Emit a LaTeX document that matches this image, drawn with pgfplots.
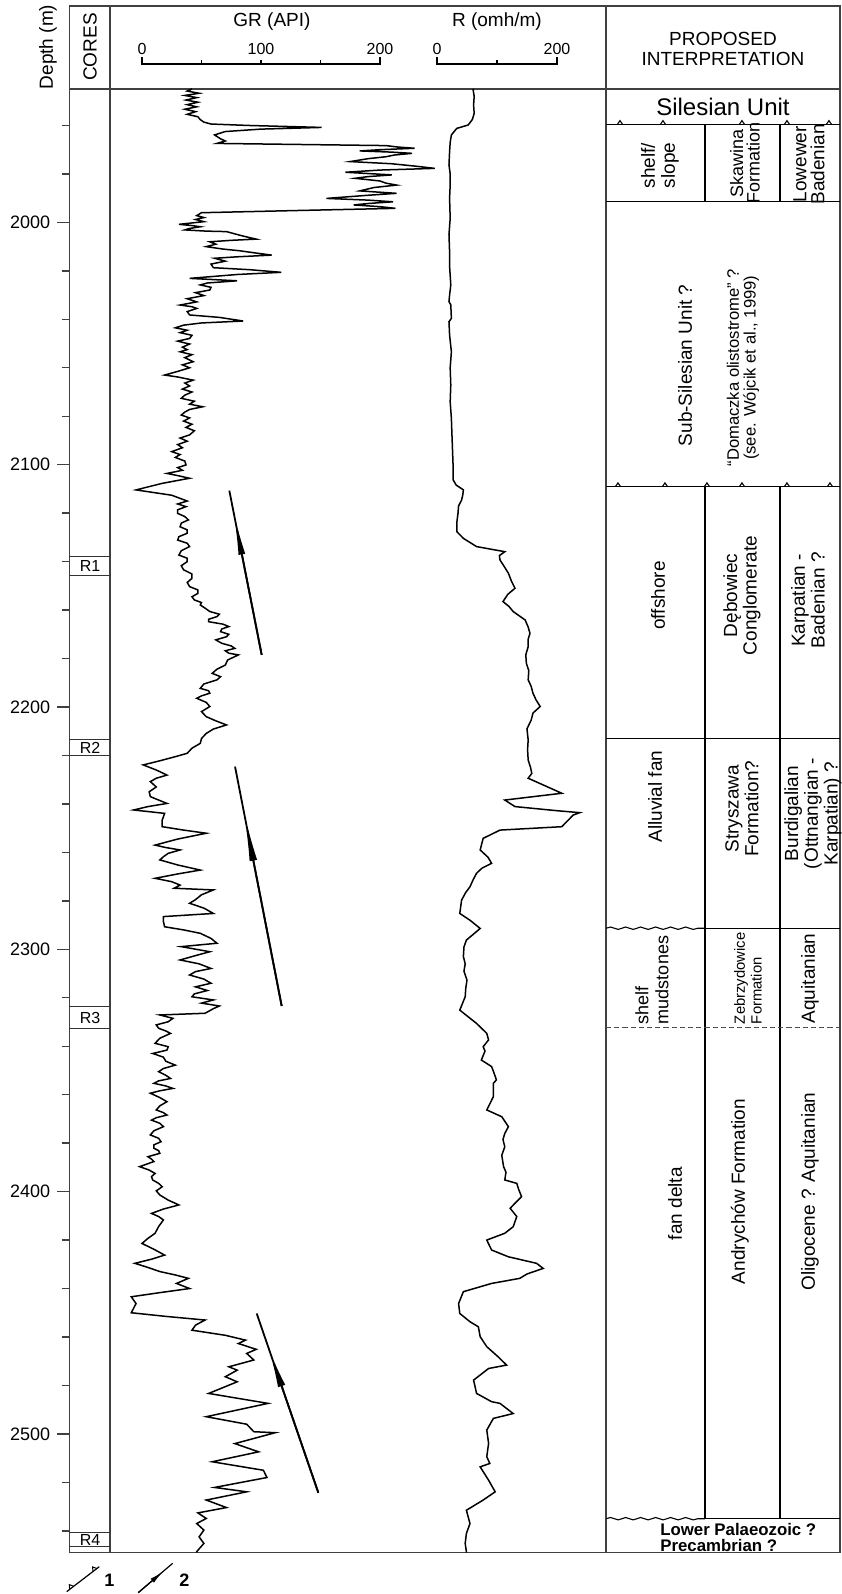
\documentclass[border=0pt]{standalone}
\usepackage{pgfplots}
\pgfplotsset{compat=1.18}
\usepackage{pgfplotstable}
\usepackage{fontspec}
\setmainfont{Liberation Sans}
\usetikzlibrary{arrows.meta,decorations.pathmorphing}
\newcommand\fs[2]{\fontsize{#1pt}{#2pt}\selectfont}

\pgfplotstableread{
d gr
1944.9 42
1945.8 38
1946.7 48
1947.6 36
1948.5 46
1949.5 37
1950.4 47
1951.4 38
1952.3 46
1953.3 36
1954.3 45
1955.4 38
1956.4 47
1957.6 49
1958.6 52
1959.4 58
1960.0 90
1960.8 151
1961.5 100
1962.5 70
1963.9 61
1965.5 66
1966.4 70
1967.4 63
1968.3 205
1968.9 215
1969.4 229
1970.0 200
1970.5 183
1971.0 210
1971.5 227
1972.2 212
1972.9 205
1973.7 190
1974.9 175
1975.8 210
1976.8 230
1977.7 246
1978.4 200
1979.3 171
1980.4 210
1981.1 190
1981.8 179
1982.9 200
1983.8 205
1984.6 214
1985.6 195
1987.0 183
1988.0 214
1988.8 190
1990.1 155
1990.8 190
1991.5 211
1992.2 190
1992.8 178
1993.5 200
1994.2 213
1995.1 130
1996.0 50
1997.2 46
1998.0 52
1998.8 45
1999.7 52
2000.8 31
2001.3 42
2001.8 49
2002.5 40
2003.1 36
2003.6 54
2003.8 71
2005.0 80
2006.0 88
2006.9 96
2007.4 75
2008.0 57
2009.0 62
2010.0 54
2011.0 68
2011.7 82
2012.6 95
2013.5 109
2014.2 80
2014.8 61
2016.0 70
2017.2 58
2018.7 60
2019.5 90
2020.6 117
2021.5 80
2023.1 40
2023.6 60
2024.1 80
2025.0 55
2025.8 49
2026.8 58
2027.9 57
2029.0 45
2030.2 52
2031.5 38
2032.8 46
2034.1 32
2034.8 42
2035.5 46
2036.8 38
2038.2 40
2039.2 65
2040.7 85
2041.5 50
2042.4 35
2043.5 28
2044.5 38
2045.5 32
2046.6 42
2047.9 40
2049.0 30
2050.2 40
2051.5 34
2052.5 38
2053.4 32
2054.6 42
2055.8 36
2057.5 43
2058.8 34
2060.0 40
2061.5 30
2063.0 19
2063.8 30
2065.1 43
2066.3 36
2067.5 40
2068.8 34
2070.0 42
2071.3 36
2072.6 33
2073.8 44
2075.0 40
2076.1 51
2077.2 40
2078.3 36
2079.5 33
2080.7 40
2082.0 35
2083.3 42
2084.6 37
2086.0 44
2087.7 40
2089.0 32
2090.3 38
2091.7 30
2093.0 34
2094.6 25
2095.8 32
2097.0 28
2098.5 36
2100.1 37
2101.2 30
2102.3 34
2103.6 21
2104.5 30
2105.6 40
2106.5 30
2107.7 17
2108.8 8
2110.4 -5
2111.5 10
2112.6 25
2113.9 32
2115.0 38
2116.2 30
2117.3 37
2118.6 30
2120.1 30
2121.4 36
2122.8 39
2124.1 33
2125.6 32
2126.9 38
2128.3 38
2129.7 31
2131.1 30
2132.4 38
2133.8 40
2135.5 33
2137.3 31
2138.6 38
2140.0 38
2141.7 33
2143.4 35
2145.1 42
2146.9 42
2148.6 38
2150.3 40
2151.7 47
2153.1 47
2154.5 42
2155.8 44
2156.9 50
2157.9 49
2159.2 53
2160.6 57
2161.7 65
2162.7 63
2163.8 56
2164.8 56
2165.8 68
2166.8 73
2167.8 67
2168.9 66
2170.0 73
2171.0 71
2172.3 62
2173.7 67
2174.8 75
2175.8 78
2176.8 70
2177.8 73
2178.5 81
2180.6 72
2182.7 70
2184.4 63
2186.1 59
2187.5 66
2188.8 63
2190.5 52
2192.3 49
2193.3 56
2194.3 57
2195.4 50
2196.4 46
2198.1 54
2199.8 57
2201.9 50
2204.0 54
2205.7 62
2207.4 71
2209.1 60
2210.9 54
2213.0 50
2215.0 49
2217.0 42
2219.1 38
2220.5 28
2222.2 15
2223.9 1
2226.0 12
2228.1 21
2229.4 12
2230.8 7
2233.0 12
2235.0 6
2237.0 7
2238.4 14
2239.8 21
2241.1 5
2242.5 -7
2243.9 19
2246.7 17
2249.4 17
2250.8 35
2252.1 54
2254.5 30
2257.0 11
2258.0 20
2259.0 32
2260.4 22
2261.8 18
2263.1 15
2265.2 30
2267.3 49
2268.9 30
2270.7 11
2272.1 25
2273.5 32
2274.8 27
2275.5 60
2277.5 50
2279.5 45
2281.0 40
2283.0 52
2285.2 60
2286.5 18
2288.5 18
2290.7 19
2292.0 35
2293.4 49
2295.5 58
2297.5 63
2298.9 33
2301.0 57
2302.6 45
2304.4 32
2306.0 48
2307.9 58
2309.2 45
2310.6 40
2312.3 52
2314.0 58
2315.5 45
2317.0 55
2318.4 44
2319.6 42
2320.9 60
2322.2 50
2323.4 65
2324.5 60
2326.4 53
2327.1 15
2328.5 26
2329.9 22
2331.2 12
2332.6 14
2333.7 20
2334.7 24
2336.7 15
2338.8 11
2340.2 22
2341.6 21
2343.0 9
2344.5 18
2346.2 20
2347.8 28
2349.2 18
2350.5 14
2352.0 20
2353.3 24
2354.3 14
2355.3 10
2356.4 20
2357.4 26
2358.4 15
2359.4 7
2361.2 15
2362.9 21
2364.6 15
2366.3 12
2367.4 18
2368.4 21
2369.5 12
2370.5 8
2371.8 15
2373.2 18
2374.9 10
2376.6 7
2378.0 14
2379.4 16
2380.7 10
2382.1 10
2383.1 14
2384.2 15
2385.6 5
2386.6 8
2387.6 10
2389.7 -2
2391.1 6
2392.5 11
2393.8 8
2395.2 9
2396.6 14
2398.0 17
2399.7 12
2401.4 15
2403.5 22
2405.5 31
2407.2 18
2409.0 8
2410.3 14
2411.7 18
2414.4 14
2417.2 11
2419.3 5
2421.4 0
2423.8 10
2426.2 19
2427.9 8
2429.6 -6
2431.3 5
2433.0 15
2434.4 28
2435.8 39
2437.9 29
2440.0 40
2441.7 15
2443.4 -9
2446.2 -5
2450.0 -9
2451.5 20
2453.0 53
2455.1 45
2457.2 42
2459.3 70
2461.3 87
2462.7 81
2465.1 96
2466.8 88
2469.5 94
2472.3 73
2473.7 80
2476.4 70
2478.5 80
2483.3 56
2487.4 106
2492.9 54
2496.0 88
2499.1 94
2499.5 112
2504.0 78
2507.4 98
2511.5 59
2515.0 102
2518.0 105
2522.1 61
2523.9 88
2527.3 54
2530.4 71
2532.6 47
2534.9 54
2537.0 46
2539.7 52
2542.5 48
2545.2 52
2548.6 46
2549.0 46
}\grdata

\pgfplotstableread{
d r
1944.9 60
1948.0 62
1951.6 61
1955.0 62
1957.5 59
1959.8 52
1961.2 33
1963.9 24
1967.0 22
1970.8 21
1976.3 20
1980.0 22
1984.6 22
1990.0 21
1998.3 22
2005.0 20
2012.1 21
2018.0 21
2025.8 23
2030.0 21
2032.7 20
2034.0 23
2039.6 24
2041.0 20
2046.5 21
2053.4 24
2060.0 22
2067.1 23
2074.0 22
2080.9 24
2088.0 25
2094.6 26
2101.5 27
2106.3 27
2108.4 32
2110.4 44
2112.5 43
2114.6 41
2117.0 36
2120.1 35
2124.0 33
2127.6 33
2130.4 44
2133.8 66
2135.9 113
2137.5 104
2139.3 105
2142.0 112
2144.8 119
2148.0 124
2151.0 130
2153.5 118
2156.5 110
2158.5 120
2160.6 127
2164.1 147
2167.0 152
2169.6 155
2172.0 152
2175.1 152
2178.5 148
2182.0 149
2185.0 153
2188.8 152
2191.5 157
2194.3 160
2197.0 165
2199.8 172
2202.5 160
2205.4 157
2209.0 150
2213.6 152
2217.5 151
2221.9 152
2225.0 156
2227.4 158
2229.4 152
2235.6 208
2238.4 113
2241.1 130
2242.8 200
2243.6 238
2244.6 227
2249.4 208
2250.8 105
2254.2 77
2257.0 74
2259.0 72
2262.0 85
2264.5 91
2266.5 75
2268.6 66
2271.4 60
2274.2 55
2276.5 48
2279.7 41
2285.2 38
2288.0 55
2291.4 72
2296.2 49
2299.0 45
2303.0 44
2306.0 47
2309.0 45
2312.7 50
2316.0 48
2319.6 47
2325.1 38
2330.6 66
2334.7 83
2337.4 86
2340.2 77
2342.0 80
2345.7 74
2348.4 91
2351.0 95
2353.9 99
2355.3 94
2360.8 94
2366.3 83
2369.1 108
2373.2 119
2376.0 113
2378.5 110
2381.5 113
2385.0 108
2389.7 111
2392.0 115
2395.2 113
2396.6 133
2399.0 136
2402.1 141
2404.8 130
2406.9 122
2410.3 133
2414.5 127
2417.2 113
2420.0 83
2424.1 91
2426.9 119
2429.6 166
2431.7 177
2434.0 150
2435.8 138
2437.9 91
2441.3 44
2446.2 36
2450.3 38
2453.7 55
2455.8 69
2459.9 72
2464.0 83
2468.2 102
2471.6 116
2473.0 86
2477.8 61
2483.3 66
2486.7 91
2487.4 105
2491.6 127
2493.6 94
2498.4 83
2503.9 86
2509.4 83
2512.2 88
2513.6 72
2519.1 86
2523.9 97
2527.3 77
2531.5 49
2537.0 55
2541.1 49
2545.2 47
2548.6 49
2549.0 49
}\rdata

\begin{document}
\begin{tikzpicture}
\pgfplotsset{base/.style={width=385.35pt, height=773.35pt, scale only axis,
  at={(0,0)}, anchor=south west, y dir=reverse, ymin=1910.69, ymax=2549}}
\tikzset{t/.style={inner sep=0pt}}
% ---------- frame axis (x in pixels, y in depth) ----------
\begin{axis}[base, xmin=69.3, xmax=840, clip=false,
  axis line style={black!75, line width=0.7pt},
  xtick=\empty,
  ytick={2000,2100,2200,2300,2400,2500},
  minor ytick={1960,1980,2020,2040,2060,2080,2120,2140,2160,2180,2220,2240,2260,2280,2320,2340,2360,2380,2420,2440,2460,2480,2520,2540},
  ytick pos=left, tick align=outside,
  major tick length=6pt, minor tick length=3.8pt,
  tick style={black!75, line width=0.7pt},
  yticklabel style={font=\fs{9}{10}},
  /pgf/number format/1000 sep={},
  /pgf/number format/assume math mode=true,
]
% bounding box of the whole picture
\path (axis cs:0,1908.21) rectangle (axis cs:841,2566.08);
% main dividers
\draw[black!75, line width=0.7pt] (axis cs:69.3,1944.9) -- (axis cs:840,1944.9);
\draw[black!75, line width=0.7pt] (axis cs:110,1910.69) -- (axis cs:110,2549);
\draw[black!75, line width=0.7pt] (axis cs:606,1910.69) -- (axis cs:606,2549);
% header
\node[t, rotate=90, font=\fs{9.5}{10}] at (axis cs:48,1927.6) {Depth (m)};
\node[t, rotate=90, font=\fs{9.5}{10}] at (axis cs:90,1927.6) {CORES};
\node[t, font=\fs{9.5}{10}] at (axis cs:272,1917.3) {GR (API)};
\node[t, font=\fs{9.5}{10}] at (axis cs:497,1917.3) {R (omh/m)};
\node[t, font=\fs{8}{9}] at (axis cs:142,1928.4) {0};
\node[t, font=\fs{8}{9}] at (axis cs:261,1928.4) {100};
\node[t, font=\fs{8}{9}] at (axis cs:380,1928.4) {200};
\node[t, font=\fs{8}{9}] at (axis cs:437,1928.4) {0};
\node[t, font=\fs{8}{9}] at (axis cs:557,1928.4) {200};
\draw[line width=0.6pt] (axis cs:142,1931.74) -- (axis cs:142,1934.63) -- (axis cs:380,1934.63) -- (axis cs:380,1931.74);
\draw[line width=0.6pt] (axis cs:201.5,1934.63) -- (axis cs:201.5,1932.98);
\draw[line width=0.6pt] (axis cs:261,1934.63) -- (axis cs:261,1932.98);
\draw[line width=0.6pt] (axis cs:320.5,1934.63) -- (axis cs:320.5,1932.98);
\draw[line width=0.6pt] (axis cs:437,1931.74) -- (axis cs:437,1934.63) -- (axis cs:557,1934.63) -- (axis cs:557,1931.74);
\draw[line width=0.6pt] (axis cs:497,1934.63) -- (axis cs:497,1932.98);
\node[t, font=\fs{9.5}{10}, align=center] at (axis cs:723,1928.5) {PROPOSED\\INTERPRETATION};
% cores
\foreach \a/\b in {2138.0/2145.9, 2213.6/2219.9, 2323.7/2332.6, 2540.6/2546.5} {
  \edef\tmp{\noexpand\draw[black!80, line width=0.5pt] (axis cs:69.3,\a) -- (axis cs:110,\a) (axis cs:69.3,\b) -- (axis cs:110,\b);}\tmp
}
\node[t, font=\fs{8}{9}] at (axis cs:90,2142.0) {R1};
\node[t, font=\fs{8}{9}] at (axis cs:90,2216.8) {R2};
\node[t, font=\fs{8}{9}] at (axis cs:90,2328.2) {R3};
\node[t, font=\fs{8}{9}] at (axis cs:90,2543.6) {R4};
% interpretation grid
\begin{scope}[line width=0.55pt]
\draw (axis cs:606,1959.5) -- (axis cs:840,1959.5);
\draw (axis cs:617.5,1959.5) -- (axis cs:620,1958) -- (axis cs:622.5,1959.5);
\draw (axis cs:660.5,1959.5) -- (axis cs:663,1958) -- (axis cs:665.5,1959.5);
\draw (axis cs:739.5,1959.5) -- (axis cs:742,1958) -- (axis cs:744.5,1959.5);
\draw (axis cs:784.5,1959.5) -- (axis cs:787,1958) -- (axis cs:789.5,1959.5);
\draw (axis cs:826.5,1959.5) -- (axis cs:829,1958) -- (axis cs:831.5,1959.5);
\draw (axis cs:705,1959.5) -- (axis cs:705,1991.2);
\draw (axis cs:780,1959.5) -- (axis cs:780,1991.2);
\draw (axis cs:606,1991.2) -- (axis cs:840,1991.2);
\draw (axis cs:606,2109) -- (axis cs:840,2109);
\draw (axis cs:615.5,2109) -- (axis cs:618,2107.5) -- (axis cs:620.5,2109);
\draw (axis cs:662.5,2109) -- (axis cs:665,2107.5) -- (axis cs:667.5,2109);
\draw (axis cs:704.5,2109) -- (axis cs:707,2107.5) -- (axis cs:709.5,2109);
\draw (axis cs:739.5,2109) -- (axis cs:742,2107.5) -- (axis cs:744.5,2109);
\draw (axis cs:784.5,2109) -- (axis cs:787,2107.5) -- (axis cs:789.5,2109);
\draw (axis cs:827.5,2109) -- (axis cs:830,2107.5) -- (axis cs:832.5,2109);
\draw (axis cs:705,2109) -- (axis cs:705,2535);
\draw (axis cs:780,2109) -- (axis cs:780,2535);
\draw (axis cs:606,2213) -- (axis cs:840,2213);
\draw[decorate, decoration={snake, amplitude=0.6pt, segment length=7.5pt}] (axis cs:606,2291.3) -- (axis cs:705,2291.3);
\draw (axis cs:705,2291.3) -- (axis cs:840,2291.3);
\draw[black!70, dash pattern=on 2.6pt off 1.5pt] (axis cs:606,2332.2) -- (axis cs:840,2332.2);
\draw[decorate, decoration={snake, amplitude=0.6pt, segment length=7.5pt}] (axis cs:606,2535) -- (axis cs:705,2535);
\draw (axis cs:705,2535) -- (axis cs:840,2535);
\end{scope}
% interpretation text
\node[t, font=\fs{12}{12}] at (axis cs:723,1952.4) {Silesian Unit};
\node[t, rotate=90, font=\fs{9.5}{10}, align=center] at (axis cs:660,1976.5) {shelf/\\slope};
\node[t, rotate=90, font=\fs{9}{8.3}, align=center] at (axis cs:745,1975.6) {Skawina\\Formation};
\node[t, rotate=90, font=\fs{9.5}{9}, align=center] at (axis cs:809,1976) {Lowewer\\Badenian};
\node[t, rotate=90, font=\fs{9.5}{10}] at (axis cs:685,2059) {Sub-Silesian Unit ?};
\node[t, rotate=90, font=\fs{8.3}{8.3}, align=center] at (axis cs:743,2060) {“Domaczka olistostrome” ?\\(see. Wójcik et al., 1999)};
\node[t, rotate=90, font=\fs{9.5}{10}] at (axis cs:658,2154) {offshore};
\node[t, rotate=90, font=\fs{9.5}{8}, align=center] at (axis cs:742,2154) {Dębowiec\\Conglomerate};
\node[t, rotate=90, font=\fs{9.5}{8}, align=center] at (axis cs:808,2156) {Karpatian -\\Badenian ?};
\node[t, rotate=90, font=\fs{9.5}{10}] at (axis cs:655,2237) {Alluvial fan};
\node[t, rotate=90, font=\fs{9.5}{8.5}, align=center] at (axis cs:742,2242) {Stryszawa\\Formation?};
\node[t, rotate=90, font=\fs{9.5}{8.3}, align=center] at (axis cs:813,2244) {Burdigalian\\(Ottnangian -\\Karpatian) ?};
\node[t, rotate=90, anchor=west, font=\fs{9}{10}, align=left] at (axis cs:652,2331) {shelf\\mudstones};
\node[t, rotate=90, anchor=west, font=\fs{7.4}{8.3}, align=left] at (axis cs:748,2331) {Zebrzydowice\\Formation};
\node[t, rotate=90, font=\fs{9.5}{10}] at (axis cs:810,2312) {Aquitanian};
\node[t, rotate=90, font=\fs{9.5}{10}] at (axis cs:675,2405) {fan delta};
\node[t, rotate=90, font=\fs{9.5}{10}] at (axis cs:740,2400) {Andrychów Formation};
\node[t, rotate=90, font=\fs{9.5}{10}] at (axis cs:810,2400) {Oligocene ? Aquitanian};
\node[t, anchor=west, font=\bfseries\fs{8.4}{8}, align=left] at (axis cs:660,2542.6) {Lower Palaeozoic ?\\Precambrian ?};
% legend under the chart
\draw[line width=0.6pt] (axis cs:66.7,2565.1) -- (axis cs:99.3,2554.8);
\draw[line width=0.5pt] (axis cs:69.7,2564.13) -- (axis cs:69.3,2562.2) -- (axis cs:73.7,2562.87);
\draw[line width=0.5pt] (axis cs:93,2556.83) -- (axis cs:92.6,2554.9) -- (axis cs:97,2555.57);
\node[t, font=\bfseries\fs{9}{10}, anchor=west] at (axis cs:104,2560.3) {1};
\draw[line width=0.6pt] (axis cs:138.3,2565.5) -- (axis cs:172.7,2553.4);
\draw[line width=0.6pt, -{Latex[length=7pt,width=2.6pt]}] (axis cs:138.3,2565.5) -- (axis cs:163,2556.81);
\node[t, font=\bfseries\fs{9}{10}, anchor=west] at (axis cs:179,2560.3) {2};
\end{axis}
% ---------- GR curve ----------
\begin{axis}[base, xmin=-61.092, xmax=586.555, hide axis]
\addplot[black, line width=0.75pt, mark=none] table[x=gr, y=d] {\grdata};
\draw[line width=0.9pt] (axis cs:100.6,2178.5) -- (axis cs:73.4,2110.7);
\draw[line width=0.9pt, -{Latex[length=21pt,width=3.4pt]}] (axis cs:100.6,2178.5) -- (axis cs:77.1,2120);
\draw[line width=0.9pt] (axis cs:117.4,2323.4) -- (axis cs:78.2,2224.6);
\draw[line width=0.9pt, -{Latex[length=24pt,width=3.8pt]}] (axis cs:117.4,2323.4) -- (axis cs:85.86,2243.9);
\draw[line width=0.9pt] (axis cs:148.2,2524.3) -- (axis cs:96.4,2450.3);
\draw[line width=0.9pt, -{Latex[length=19pt,width=3.8pt]}] (axis cs:148.2,2524.3) -- (axis cs:106.97,2465.4);
\end{axis}
% ---------- R curve ----------
\begin{axis}[base, xmin=-612.833, xmax=671.667, hide axis]
\addplot[black, line width=0.75pt, mark=none] table[x=r, y=d] {\rdata};
\end{axis}
\end{tikzpicture}
\end{document}
